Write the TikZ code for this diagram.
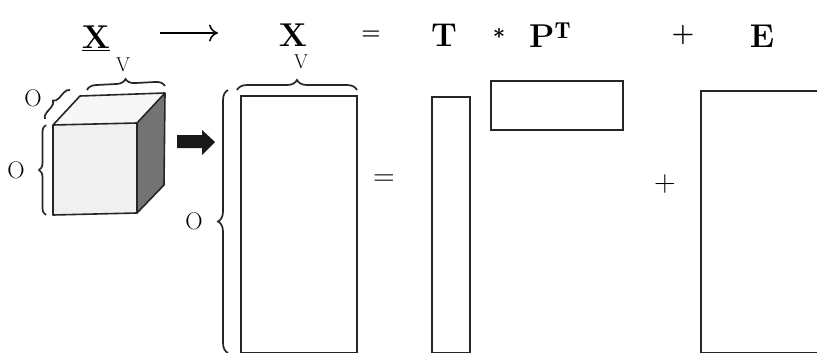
\documentclass[tikz,border=0pt]{standalone}
\usepackage{fontspec}
\newfontfamily\djs{DejaVu Serif}
\usetikzlibrary{decorations.pathreplacing,arrows.meta}
\begin{document}
\begin{tikzpicture}[x=1pt,y=-1pt,
  mat/.style={draw=black!85,line width=1.6pt},
  hdr/.style={font=\fontsize{33}{35}\selectfont\bfseries,inner sep=0pt},
  sym/.style={font=\fontsize{24}{26}\selectfont,inner sep=0pt},
  lbl/.style={font=\fontsize{24}{26}\selectfont,inner sep=0pt},
  vlbl/.style={font=\fontsize{20}{22}\selectfont,inner sep=0pt},
  brc/.style={draw=black!85,line width=1.7pt,decorate,decoration={brace,amplitude=#1}},
  brc/.default=8pt]
\clip (0,0) rectangle (817,353);
% header
\node[hdr] (xu) at (96,38) {\underline{X}};
\coordinate (a1) at (160,33);
\coordinate (a2) at (218,33);
\draw[line width=1.5pt,-{To[length=9pt,width=17pt]}] (a1) -- (a2);
\node[hdr] (xh) at (293,35) {X};
\node[sym,font=\fontsize{22}{24}\selectfont\bfseries] (eqh) at (371,35) {=};
\node[hdr] (th) at (444,35) {T};
\node[sym,font=\fontsize{20}{22}\selectfont\djs\bfseries] (st) at (499,36) {*};
\node[hdr,anchor=west] (ph) at (529,35) {P$^{\mathbf{T}}$};
\node[sym,font=\fontsize{26}{28}\selectfont\bfseries] (plh) at (683,35) {+};
\node[hdr] (eh) at (762,36) {E};
% cube
\coordinate (c1) at (53,125);
\coordinate (c2) at (137,123);
\coordinate (c3) at (137,213);
\coordinate (c4) at (53,215);
\coordinate (c5) at (80,96);
\coordinate (c6) at (165,93);
\coordinate (c7) at (164,185);
\fill[black!6] (c1) -- (c2) -- (c3) -- (c4) -- cycle;
\fill[black!3] (c1) -- (c5) -- (c6) -- (c2) -- cycle;
\fill[black!55] (c2) -- (c6) -- (c7) -- (c3) -- cycle;
\draw[mat,line join=round] (c1) -- (c2) -- (c3) -- (c4) -- cycle;
\draw[mat,line join=round] (c1) -- (c5) -- (c6) -- (c2);
\draw[mat,line join=round] (c6) -- (c7) -- (c3);
% cube braces
\coordinate (b1a) at (46,215);
\coordinate (b1b) at (46,125);
\draw[brc=7pt] (b1a) -- (b1b);
\node[lbl] (o1) at (16,170) {O};
\coordinate (b2a) at (45,119);
\coordinate (b2b) at (70,90);
\draw[brc=6pt] (b2a) -- (b2b);
\node[lbl] (o2) at (33,98) {O};
\coordinate (b3a) at (87,90);
\coordinate (b3b) at (165,86);
\draw[brc=9pt] (b3a) -- (b3b);
\node[vlbl] (v1) at (123,65) {V};
% block arrow
\coordinate (ba1) at (177,135);
\coordinate (ba2) at (202,135);
\coordinate (ba3) at (202,130);
\coordinate (ba4) at (215,142);
\coordinate (ba5) at (202,155);
\coordinate (ba6) at (202,148);
\coordinate (ba7) at (177,148);
\fill[black!90] (ba1) -- (ba2) -- (ba3) -- (ba4) -- (ba5) -- (ba6) -- (ba7) -- cycle;
% X matrix
\node[mat,minimum width=116pt,minimum height=257pt,inner sep=0pt,anchor=north west] (xm) at (240,95) {};
\coordinate (b4a) at (237,90);
\coordinate (b4b) at (357,90);
\draw[brc=10pt] (b4a) -- (b4b);
\node[vlbl] (v2) at (301,62) {V};
\coordinate (b5a) at (228,353);
\coordinate (b5b) at (228,90);
\draw[brc=10pt] (b5a) -- (b5b);
\node[lbl] (o3) at (194,221) {O};
% equals
\node[font=\fontsize{30}{32}\selectfont,inner sep=0pt] (eq) at (384,180) {=};
% T
\node[mat,minimum width=38pt,minimum height=256pt,inner sep=0pt,anchor=north west] (tm) at (431,96) {};
% P^T
\node[mat,minimum width=132pt,minimum height=49pt,inner sep=0pt,anchor=north west] (pm) at (490,80) {};
% plus
\node[font=\fontsize{30}{32}\selectfont,inner sep=0pt] (pl) at (665,184) {+};
% E
\node[mat,minimum width=130pt,minimum height=262pt,inner sep=0pt,anchor=north west] (em) at (700,90) {};
\end{tikzpicture}
\end{document}
